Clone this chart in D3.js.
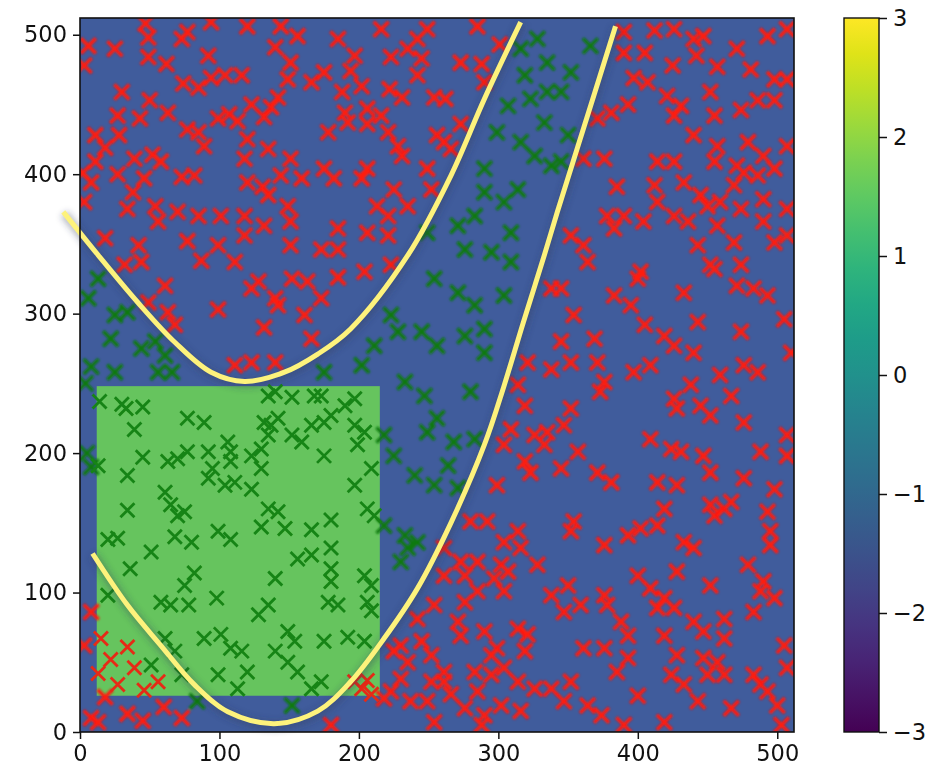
<!DOCTYPE html>
<html>
<head>
<meta charset="utf-8">
<script src="https://cdn.jsdelivr.net/npm/d3@7"></script>
<style>
  html, body { margin: 0; padding: 0; background: #fff; }
  svg { display: block; font-family: "DejaVu Sans", sans-serif; }
</style>
</head>
<body>
<svg id="chart" width="946" height="775"></svg>
<script>
// Field extent and levels
const fieldSize = 512;
const patchX = [12, 215];
const patchY = [26, 248];
const backgroundColor = "#405c9c";
const patchColor = "#66c45e";

// Tick values
const axisTicks = [0, 100, 200, 300, 400, 500];
const colorTicks = [-3, -2, -1, 0, 1, 2, 3];
const colorDomain = [-3, 3];

// Samples outside the corridor
const redPoints = [
  [49,498],[73,497],[77,502],[25,490],[49,484],[62,479],[92,485],[6,492],[3,478],[74,465],[85,462],[94,469],[104,471],[116,471],
  [30,459],[50,453],[63,444],[27,442],[43,440],[77,432],[85,430],[99,440],[107,443],[123,450],[137,448],[132,441],[18,419],[11,428],
  [28,428],[52,414],[58,409],[39,411],[27,400],[11,409],[8,394],[38,387],[46,397],[34,375],[54,377],[56,366],[73,398],[82,399],
  [70,373],[85,370],[101,370],[118,370],[120,425],[118,411],[120,394],[131,391],[135,418],[151,411],[159,397],[144,399],[149,377],
  [135,385],[132,363],[151,366],[118,356],[99,349],[77,352],[42,349],[18,354],[151,349],[140,491],[151,480],[149,468],[166,466],
  [156,499],[120,506],[3,380],[2,401],[113,438],[89,420],[142,455],[47,508],[94,509],[144,506],
  [185,497],[197,485],[175,473],[194,474],[216,504],[235,490],[242,497],[249,504],[245,483],[223,484],[242,471],[188,459],[202,463],
  [222,461],[231,455],[254,455],[262,454],[273,480],[288,479],[290,466],[301,493],[285,506],[190,444],[192,437],[206,447],[216,442],
  [206,436],[221,430],[228,420],[231,413],[178,430],[256,428],[261,423],[266,418],[273,436],[175,404],[182,397],[206,404],[202,397],
  [249,404],[252,389],[225,389],[213,377],[221,370],[235,377],[221,356],[185,361],[206,358],[185,346],[173,346],
  [390,502],[412,503],[426,504],[440,497],[447,499],[471,490],[493,499],[507,504],[390,487],[405,487],[425,478],[442,485],[457,477],
  [481,475],[498,468],[507,468],[397,469],[407,466],[421,456],[431,449],[452,459],[474,446],[486,453],[498,453],[381,444],[393,450],
  [426,442],[440,428],[455,442],[457,420],[479,423],[490,413],[507,420],[361,411],[376,411],[414,409],[426,409],[433,394],[412,392],
  [385,391],[471,406],[476,401],[486,399],[498,404],[455,409],[445,385],[450,377],[459,380],[469,392],[490,382],[507,375],[414,380],
  [426,370],[436,366],[404,366],[390,370],[378,370],[383,361],[361,349],[352,356],[457,363],[474,375],[498,351],[490,366],[469,351],
  [443,349],[507,356],[371,440],
  [32,335],[44,337],[61,320],[49,308],[63,301],[68,292],[87,338],[111,337],[128,323],[123,318],[152,325],[163,323],[140,311],
  [142,306],[161,299],[99,303],[132,290],[111,263],[123,265],[140,265],[166,282],
  [185,326],[173,311],[204,330],[223,335],[321,265],[338,260],[338,318],[314,249],[319,234],[309,217],[326,213],[335,215],[304,206],
  [319,194],[323,186],[299,177],[333,206],
  [364,337],[402,330],[400,325],[345,318],[383,313],[395,306],[433,315],[455,332],[474,335],[471,320],[483,318],[493,313],[505,296],
  [474,287],[354,299],[405,292],[419,284],[426,277],[443,294],[440,272],[369,282],[345,280],[352,265],[371,265],[397,258],[409,263],
  [459,256],[476,263],[486,258],[373,244],[376,251],[352,232],[347,220],[426,239],[438,249],[428,232],[445,234],[452,227],[476,222],
  [507,213],[510,272],[409,210],[424,203],[431,201],[447,198],[452,186],[476,182],[488,201],[507,198],[357,201],[371,186],[381,179],
  [345,189],[414,179],[428,177],[467,241],[498,174],[452,335],
  [8,86],[15,67],[34,61],[39,46],[13,42],[27,34],[56,36],[3,62],[8,10],[13,7],[34,13],[73,10],
  [22,52],[46,30],[18,25],[60,18],[45,8],
  [197,36],[206,37],[202,31],
  [280,151],[292,151],[314,144],[304,136],[316,132],[328,120],[261,132],[273,122],[285,122],[276,112],[261,112],[302,120],[307,115],
  [297,110],[304,101],[285,101],[276,93],[254,91],[242,81],[271,79],[273,69],[290,72],[314,74],[321,70],[319,58],[299,60],[295,55],
  [230,62],[245,65],[225,58],[235,50],[252,55],[261,43],[261,36],[252,36],[266,27],[283,43],[295,41],[304,46],[314,36],[326,31],
  [338,31],[285,29],[276,17],[290,12],[302,19],[316,15],[230,38],[223,29],[237,22],[249,22],[254,7],[288,5],[180,5],[209,27],
  [218,24],[338,98],
  [354,151],[352,144],[376,134],[393,141],[402,146],[414,148],[419,160],[433,136],[440,132],[455,155],[462,160],[452,163],[467,165],
  [493,158],[495,144],[495,134],[479,120],[490,108],[498,96],[483,86],[488,101],[350,105],[376,98],[378,91],[359,91],[400,112],
  [409,103],[419,96],[414,89],[428,115],[452,105],[426,89],[440,79],[447,72],[462,81],[462,67],[419,69],[393,69],[388,79],[361,60],
  [376,60],[393,53],[385,43],[428,55],[447,53],[457,50],[424,41],[433,34],[443,22],[450,41],[462,41],[483,41],[488,34],[493,29],
  [500,19],[505,62],[507,46],[347,22],[352,36],[364,19],[374,12],[400,26],[390,5],[419,7],[467,17],[503,5],[347,86]
];

// Samples inside the corridor
const greenPoints = [
  [249,358],[271,363],[290,387],[283,370],[314,389],[304,380],[290,404],[299,430],[316,423],[307,449],[323,454],[335,459],[319,471],
  [335,480],[316,490],[328,497],[338,406],[295,344],[276,346],[309,358],[333,437],[326,413],
  [366,492],[352,473],[345,459],[350,428],[345,409],
  [13,325],[25,299],[34,301],[22,282],[44,275],[54,280],[61,270],[56,258],[66,258],[25,258],[6,311],[5,200],[8,190],[4,250],[8,262],
  [14,237],[30,235],[33,232],[45,233],[39,217],[77,225],[89,222],[13,191],[34,184],[45,197],[63,194],[70,196],[77,201],[92,201],
  [95,189],[106,208],[108,201],[108,194],[92,182],[104,177],[111,179],[123,174],[130,189],[135,241],[140,244],[152,240],[168,241],
  [132,222],[137,220],[142,225],[135,213],[130,203],[123,198],[152,213],[159,208],[166,220],[61,172],
  [254,325],[271,315],[283,306],[304,313],[309,337],[223,299],[228,287],[245,287],[256,277],[276,284],[290,289],[290,272],[211,277],
  [202,263],[175,258],[233,251],[247,241],[280,244],[256,225],[268,208],[283,210],[249,215],[240,184],[254,177],[218,213],[225,198],
  [264,191],[271,175],
  [173,241],[180,227],[190,234],[197,239],[175,222],[197,220],[204,215],[199,206],[175,198],[209,189],[197,177],
  [34,159],[65,163],[70,155],[75,158],[68,140],[80,136],[99,144],[108,138],[135,160],[142,158],[147,146],[130,147],[166,145],
  [156,124],[166,127],[20,138],[27,139],[51,129],[36,117],[82,114],[75,105],[140,110],[58,93],[65,91],[78,91],[98,96],[128,84],
  [135,91],[20,98],[61,67],[68,58],[89,67],[101,70],[108,60],[116,58],[99,41],[113,31],[120,43],[140,58],[149,72],[154,65],
  [149,50],[156,43],[166,31],[51,48],[73,41],[152,19],[84,22],
  [180,152],[206,160],[211,155],[180,132],[180,117],[180,108],[204,112],[209,105],[178,93],[185,91],[206,93],[209,87],[175,65],
  [192,68],[204,65],[173,36],[218,148],[233,141],[242,136],[235,132],[230,122]
];

// Corridor boundaries
const upperCurve = [
  [-12,373],[13,342],[41.5,308],[68,279.5],[94,258],[118,251.4],[146.6,258],[170.5,271],[194,289],[235,341.7],[266,399],[290,454],[316,509]
];
const lowerCurve = [
  [9,128],[34,91],[58,62],[82,34],[106,14.5],[139.5,6],[170.5,15],[194,36],[218,67],[242,103],[266,150],[290,206],[304,248],
  [318,294],[333,342],[342,372],[358,423],[384,506]
];

const svg = d3.select("#chart");
const margin = { left: 80, top: 18 };
const side = 714;

const x = d3.scaleLinear().domain([0, fieldSize]).range([margin.left, margin.left + side]);
const y = d3.scaleLinear().domain([0, fieldSize]).range([margin.top + side, margin.top]);

const defs = svg.append("defs");
defs.append("clipPath").attr("id", "plotClip")
  .append("rect").attr("x", x(0)).attr("y", y(fieldSize)).attr("width", side).attr("height", side);
defs.append("filter").attr("id", "soft").attr("x", "-20%").attr("y", "-20%").attr("width", "140%").attr("height", "140%")
  .append("feGaussianBlur").attr("stdDeviation", 1.2);
defs.append("filter").attr("id", "slight")
  .append("feGaussianBlur").attr("stdDeviation", 0.45);
defs.append("filter").attr("id", "shadow").attr("x", "-20%").attr("y", "-20%").attr("width", "140%").attr("height", "140%")
  .append("feGaussianBlur").attr("stdDeviation", 3);

const plot = svg.append("g").attr("clip-path", "url(#plotClip)");

// field image: background level and raised patch
plot.append("rect")
  .attr("x", x(0)).attr("y", y(fieldSize))
  .attr("width", x(fieldSize) - x(0)).attr("height", y(0) - y(fieldSize))
  .attr("fill", backgroundColor);
plot.append("rect")
  .attr("x", x(patchX[0])).attr("y", y(patchY[1]))
  .attr("width", x(patchX[1]) - x(patchX[0])).attr("height", y(patchY[0]) - y(patchY[1]))
  .attr("fill", patchColor);

const inPatch = d => d[0] >= patchX[0] && d[0] <= patchX[1] && d[1] >= patchY[0] && d[1] <= patchY[1];

function drawMarks(layer, data, color, half, width) {
  const cross = `M${-half},${-half}L${half},${half}M${-half},${half}L${half},${-half}`;
  layer.selectAll(null).data(data).enter().append("path")
    .attr("d", cross)
    .attr("transform", d => `translate(${x(d[0])},${y(d[1])})`)
    .attr("stroke", color)
    .attr("stroke-width", width)
    .attr("fill", "none");
}

const softLayer = plot.append("g").attr("filter", "url(#soft)");
drawMarks(softLayer, greenPoints.filter(d => !inPatch(d)), "#0a7a10", 7.5, 3.4);
drawMarks(softLayer, redPoints.filter(d => !inPatch(d)), "#ff1a0a", 7.5, 3.6);

const crispLayer = plot.append("g").attr("filter", "url(#slight)");
drawMarks(crispLayer, redPoints.filter(inPatch), "#e62a16", 7, 2.8);
drawMarks(crispLayer, greenPoints.filter(inPatch), "#168414", 7, 2.8);

// corridor boundaries
const line = d3.line().x(d => x(d[0])).y(d => y(d[1])).curve(d3.curveCatmullRom.alpha(0.5));
const curves = svg.append("g");
[upperCurve, lowerCurve].forEach(c => {
  curves.append("path").attr("d", line(c))
    .attr("fill", "none").attr("stroke", "#30405a").attr("stroke-opacity", 0.35)
    .attr("stroke-width", 9).attr("filter", "url(#shadow)")
    .attr("transform", "translate(1,2)");
});
[upperCurve, lowerCurve].forEach(c => {
  curves.append("path").attr("d", line(c))
    .attr("fill", "none").attr("stroke", "#fdf27c")
    .attr("stroke-width", 5).attr("stroke-linecap", "butt");
});

// frame
svg.append("rect")
  .attr("x", x(0)).attr("y", y(fieldSize))
  .attr("width", side).attr("height", side)
  .attr("fill", "none").attr("stroke", "#111").attr("stroke-width", 1.6);

// axes
const fontSize = 22.5;
const xAxis = svg.append("g").attr("transform", `translate(0,${y(0)})`)
  .call(d3.axisBottom(x).tickValues(axisTicks).tickSize(7).tickPadding(6));
const yAxis = svg.append("g").attr("transform", `translate(${x(0)},0)`)
  .call(d3.axisLeft(y).tickValues(axisTicks).tickSize(7).tickPadding(6));
[xAxis, yAxis].forEach(a => {
  a.select(".domain").remove();
  a.selectAll(".tick line").attr("stroke", "#111").attr("stroke-width", 1.5);
  a.selectAll(".tick text").attr("font-size", fontSize).attr("fill", "#111")
    .attr("font-family", "DejaVu Sans, sans-serif");
});

// colorbar
const cbX = 844, cbW = 35;
const cScale = d3.scaleLinear().domain(colorDomain).range([y(0), y(fieldSize)]);
const grad = defs.append("linearGradient").attr("id", "viridisGrad")
  .attr("x1", 0).attr("y1", 1).attr("x2", 0).attr("y2", 0);
d3.range(0, 1.0001, 0.05).forEach(t => {
  grad.append("stop").attr("offset", t).attr("stop-color", d3.interpolateViridis(t));
});
svg.append("rect")
  .attr("x", cbX).attr("y", cScale(colorDomain[1]))
  .attr("width", cbW).attr("height", cScale(colorDomain[0]) - cScale(colorDomain[1]))
  .attr("fill", "url(#viridisGrad)").attr("stroke", "#111").attr("stroke-width", 1.4);
const cAxis = svg.append("g").attr("transform", `translate(${cbX + cbW},0)`)
  .call(d3.axisRight(cScale).tickValues(colorTicks).tickFormat(d3.format("d")).tickSize(8).tickPadding(6));
cAxis.select(".domain").remove();
cAxis.selectAll(".tick line").attr("stroke", "#111").attr("stroke-width", 1.5);
cAxis.selectAll(".tick text").attr("font-size", fontSize).attr("fill", "#111")
  .attr("font-family", "DejaVu Sans, sans-serif");
</script>
</body>
</html>
